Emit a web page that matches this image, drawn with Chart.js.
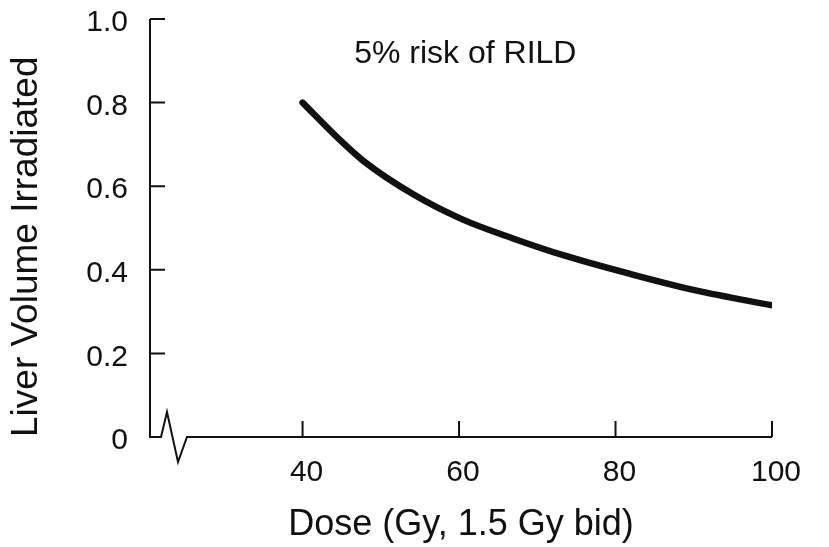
<!DOCTYPE html>
<html>
<head>
<meta charset="utf-8">
<title>5% risk of RILD</title>
<script src="https://cdn.jsdelivr.net/npm/chart.js@4/dist/chart.umd.min.js"></script>
<style>
  html, body { margin: 0; padding: 0; background: #fff; }
  canvas { display: block; }
</style>
</head>
<body>
<canvas id="rildChart" width="829" height="547"></canvas>
<script>
// values
const dose = [40, 44.8, 47.8, 54.2, 60.5, 66.9, 73.3, 81.9, 90.4, 100];
const liverVolume = [0.80, 0.71, 0.66, 0.58, 0.52, 0.475, 0.435, 0.39, 0.35, 0.315];

// axes
const xTicks = [40, 60, 80, 100];
const yTicks = [0, 0.2, 0.4, 0.6, 0.8, 1.0];
const xMin = 20.5;   // axis is broken near the origin
const xMax = 100;

const noteText = '5% risk of RILD';
const noteAt = [60.8, 0.915];

const ink = '#111';
const fontFamily = '"Liberation Sans", Arial, sans-serif';

// axis lines, inward ticks, the break mark and the note
const axisArt = {
  id: 'axisArt',
  afterDraw(chart) {
    const { ctx, chartArea: a, scales: { x, y } } = chart;
    ctx.save();
    ctx.strokeStyle = ink;
    ctx.lineWidth = 2;
    ctx.lineJoin = 'miter';

    ctx.beginPath();
    ctx.moveTo(a.left, a.top);
    ctx.lineTo(a.left, a.bottom);
    ctx.lineTo(a.left + 11, a.bottom);
    ctx.lineTo(a.left + 17, a.bottom - 25);
    ctx.lineTo(a.left + 28, a.bottom + 25);
    ctx.lineTo(a.left + 37, a.bottom);
    ctx.lineTo(a.right, a.bottom);
    ctx.stroke();

    ctx.beginPath();
    yTicks.filter(v => v > 0).forEach(v => {
      const py = y.getPixelForValue(v);
      ctx.moveTo(a.left, py);
      ctx.lineTo(a.left + 15, py);
    });
    xTicks.forEach(v => {
      const px = x.getPixelForValue(v);
      ctx.moveTo(px, a.bottom);
      ctx.lineTo(px, a.bottom - 16);
    });
    ctx.stroke();

    ctx.fillStyle = ink;
    ctx.font = '32px ' + fontFamily;
    ctx.textAlign = 'center';
    ctx.textBaseline = 'middle';
    ctx.fillText(noteText, x.getPixelForValue(noteAt[0]), y.getPixelForValue(noteAt[1]));
    ctx.restore();
  }
};

const ctx = document.getElementById('rildChart').getContext('2d');

new Chart(ctx, {
  type: 'line',
  data: {
    datasets: [{
      data: dose.map((d, i) => ({ x: d, y: liverVolume[i] })),
      borderColor: ink,
      borderWidth: 6.5,
      borderCapStyle: 'round',
      pointRadius: 0,
      cubicInterpolationMode: 'monotone',
      fill: false
    }]
  },
  options: {
    responsive: false,
    animation: false,
    layout: {
      padding: { top: 19, right: 57, left: 0, bottom: 0 }
    },
    plugins: {
      legend: { display: false },
      tooltip: { enabled: false }
    },
    scales: {
      x: {
        type: 'linear',
        min: xMin,
        max: xMax,
        afterBuildTicks: scale => { scale.ticks = xTicks.map(v => ({ value: v })); },
        afterFit: scale => {
          scale.height = 110;
          scale.paddingLeft = 0;
          scale.paddingRight = 0;
        },
        grid: { display: false, drawTicks: false },
        border: { display: false },
        ticks: {
          color: ink,
          font: { family: fontFamily, size: 30 },
          padding: 18,
          labelOffset: 4,
          maxRotation: 0,
          autoSkip: false
        },
        title: {
          display: true,
          text: 'Dose (Gy, 1.5 Gy bid)',
          color: ink,
          font: { family: fontFamily, size: 36 },
          padding: { top: 0, bottom: 0 }
        }
      },
      y: {
        type: 'linear',
        min: 0,
        max: 1,
        afterBuildTicks: scale => { scale.ticks = yTicks.map(v => ({ value: v })); },
        afterFit: scale => {
          scale.width = 150;
          scale.paddingTop = 0;
          scale.paddingBottom = 0;
        },
        grid: { display: false, drawTicks: false },
        border: { display: false },
        ticks: {
          color: ink,
          font: { family: fontFamily, size: 30 },
          padding: 22,
          labelOffset: 4,
          callback: v => (v === 0 ? '0' : v.toFixed(1))
        },
        title: {
          display: true,
          text: 'Liver Volume Irradiated',
          align: 'start',
          color: ink,
          font: { family: fontFamily, size: 37 },
          padding: { top: 5, bottom: 0 }
        }
      }
    }
  },
  plugins: [axisArt]
});
</script>
</body>
</html>
